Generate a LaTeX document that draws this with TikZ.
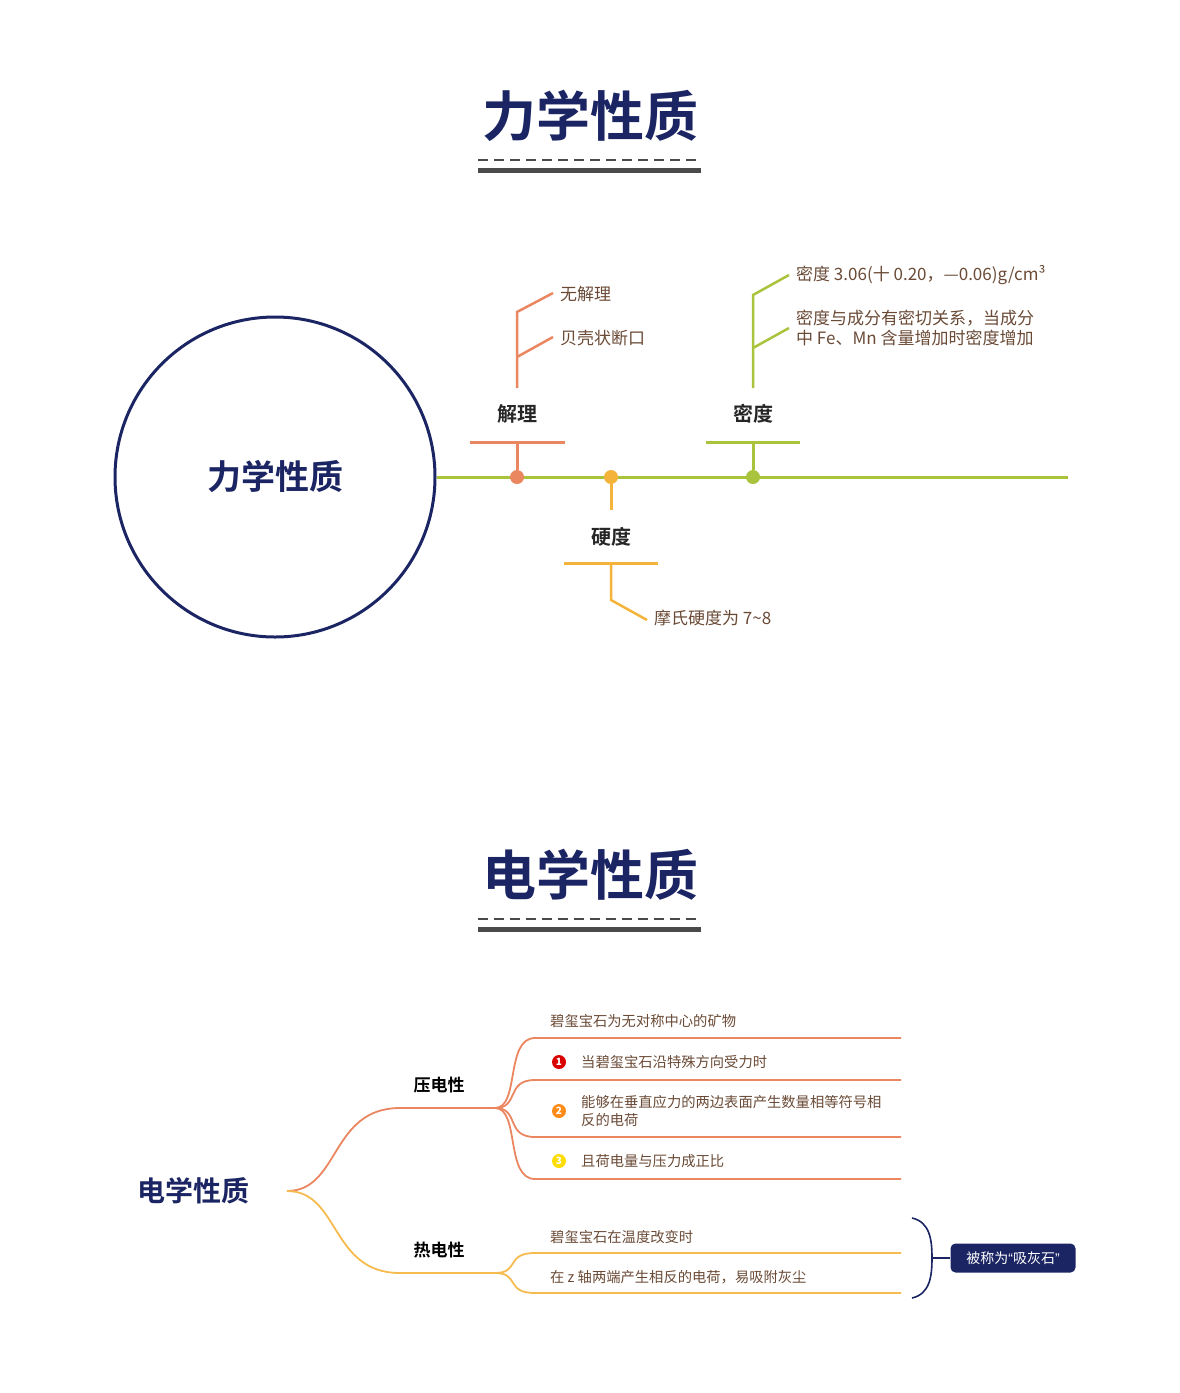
\documentclass[tikz,border=0pt]{standalone}
\usepackage{fontspec}
\setmainfont{Noto Sans CJK SC}
\newfontfamily\cjkb{Noto Sans CJK SC Bold}
\newfontfamily\latq{Liberation Sans}
\definecolor{navy}{HTML}{1B2563}
\definecolor{lgreen}{HTML}{A9C43C}
\definecolor{lred}{HTML}{EA8660}
\definecolor{lyel}{HTML}{F4B33A}
\definecolor{txt}{HTML}{6A4A36}
\definecolor{gbar}{HTML}{4A4A4A}
\begin{document}
\begin{tikzpicture}[x=1pt,y=-1pt,
  title/.style={font=\cjkb\fontsize{54}{60}\selectfont,text=navy},
  lab/.style={font=\cjkb\fontsize{20}{24}\selectfont,text=black!85},
  leaf/.style={font=\fontsize{17}{20}\selectfont,text=txt,anchor=west,inner sep=0},
  sleaf/.style={font=\fontsize{14.3}{18}\selectfont,text=txt,anchor=west,inner sep=0,align=left},
  dotc/.style={circle,fill=#1,inner sep=0,minimum size=14pt},
  badge/.style={circle,fill=#1,text=white,inner sep=0,minimum size=14pt,font=\bfseries\fontsize{10}{10}\selectfont}]
\useasboundingbox (0,0) rectangle (1179,1393);
% ===== Title 1
\node[title] (t1) at (590,116) {力学性质};
\draw[gbar,line width=2.5pt,dash pattern=on 10pt off 6pt] (478,160) -- (701,160);
\draw[gbar,line width=5pt] (478,170) -- (701,170);
% circle
\node[draw=navy,line width=3pt,circle,minimum size=320pt,font=\cjkb\fontsize{34}{40}\selectfont,text=navy] (c1) at (275,477) {力学性质};
\coordinate (lend) at (1068,477);
\draw[lgreen,line width=3pt] (c1.east) -- (lend);
% 解理
\node[dotc=lred] (d1) at (517,477) {};
\coordinate (b1) at (517,442);
\draw[lred,line width=3pt] (d1) -- (b1);
\draw[lred,line width=3pt] (470,442) -- (565,442);
\node[lab] (l1) at (517,414) {解理};
\node[leaf] (n11) at (560,294) {无解理};
\node[leaf] (n12) at (560,338) {贝壳状断口};
\draw[lred,line width=2.5pt] (517,388) -- (517,312) -- (553,293);
\draw[lred,line width=2.5pt] (517,357) -- (553,337);
% 硬度
\node[dotc=lyel] (d2) at (611,477) {};
\coordinate (b2) at (611,510);
\draw[lyel,line width=3pt] (d2) -- (b2);
\draw[lyel,line width=3pt] (564,563) -- (658,563);
\node[lab] (l2) at (611,537) {硬度};
\node[leaf] (n21) at (654,618) {摩氏硬度为 7\char"7E 8};
\draw[lyel,line width=2.5pt] (611,563) -- (611,600) -- (647,620);
% 密度
\node[dotc=lgreen] (d3) at (753,477) {};
\coordinate (b3) at (753,442);
\draw[lgreen,line width=3pt] (d3) -- (b3);
\draw[lgreen,line width=3pt] (706,442) -- (800,442);
\node[lab] (l3) at (753,414) {密度};
\node[leaf] (n31) at (796,275) {密度 3.06(十 0.20，—0.06)g/cm³};
\node[leaf,align=left,font=\fontsize{17}{20}\selectfont] (n32) at (796,328) {密度与成分有密切关系，当成分\\中 Fe、Mn 含量增加时密度增加};
\draw[lgreen,line width=2.5pt] (753,388) -- (753,295) -- (789,275);
\draw[lgreen,line width=2.5pt] (753,348) -- (789,328);
% ===== Title 2
\node[title] (t2) at (590,875) {电学性质};
\draw[gbar,line width=2.5pt,dash pattern=on 10pt off 6pt] (478,919) -- (701,919);
\draw[gbar,line width=5pt] (478,929) -- (701,929);
\node[font=\cjkb\fontsize{28}{32}\selectfont,text=navy] (root) at (193,1191) {电学性质};
\coordinate (r0) at (287,1191);
\node[font=\cjkb\fontsize{17}{20}\selectfont] (p) at (439,1085) {压电性};
\node[font=\cjkb\fontsize{17}{20}\selectfont] (h) at (439,1250) {热电性};
\coordinate (pa) at (400,1108); \coordinate (pb) at (495,1108);
\coordinate (ha) at (400,1273); \coordinate (hb) at (495,1273);
\draw[lred,line width=1.8pt] (r0) .. controls (340,1191) and (330,1108) .. (pa) -- (pb);
\draw[lyel!90!white,line width=1.8pt] (r0) .. controls (340,1191) and (330,1273) .. (ha) -- (hb);
\foreach \y in {1038,1080,1137,1179}
  \draw[lred,line width=1.8pt] (pb) .. controls (520,1108) and (505,\y) .. (535,\y) -- (901,\y);
\foreach \y in {1253,1293}
  \draw[lyel!90!white,line width=1.8pt] (hb) .. controls (520,1273) and (505,\y) .. (535,\y) -- (901,\y);
\node[sleaf] (e1) at (550,1021) {碧玺宝石为无对称中心的矿物};
\node[badge=red!85!black] (k1) at (559,1062) {1};
\node[sleaf] (e2) at (581,1062) {当碧玺宝石沿特殊方向受力时};
\node[badge=orange!90] (k2) at (559,1111) {2};
\node[sleaf] (e3) at (581,1111) {能够在垂直应力的两边表面产生数量相等符号相\\反的电荷};
\node[badge=yellow!80!orange] (k3) at (559,1161) {3};
\node[sleaf] (e4) at (581,1161) {且荷电量与压力成正比};
\node[sleaf] (f1) at (550,1237) {碧玺宝石在温度改变时};
\node[sleaf] (f2) at (550,1277) {在 z 轴两端产生相反的电荷，易吸附灰尘};
% brace
\draw[navy,line width=1.6pt] (912,1218) .. controls (930,1222) and (932,1240) .. (932,1258) .. controls (932,1276) and (930,1294) .. (912,1298);
\node[fill=navy,rounded corners=5pt,text=white,font=\fontsize{14}{16}\selectfont,minimum width=125pt,minimum height=29pt,inner xsep=2pt] (box) at (1013,1258) {被称为{\latq“}吸灰石{\latq”}};
\draw[navy,line width=1.6pt] (932,1258) -- (box.west);
\end{tikzpicture}
\end{document}
